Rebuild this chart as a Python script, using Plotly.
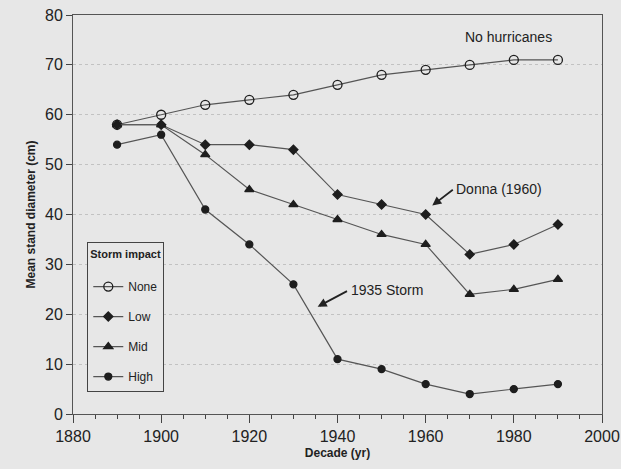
import plotly.graph_objects as go

decades = [1890, 1900, 1910, 1920, 1930, 1940, 1950, 1960, 1970, 1980, 1990]
none_vals = [58, 60, 62, 63, 64, 66, 68, 69, 70, 71, 71]
low_vals = [58, 58, 54, 54, 53, 44, 42, 40, 32, 34, 38]
mid_vals = [58, 58, 52, 45, 42, 39, 36, 34, 24, 25, 27]
high_vals = [54, 56, 41, 34, 26, 11, 9, 6, 4, 5, 6]

x_ticks = [1880, 1900, 1920, 1940, 1960, 1980, 2000]
y_ticks = [0, 10, 20, 30, 40, 50, 60, 70, 80]

BG = "#e7e7e7"
LINE = "#555555"
MK = "#1e1e1e"
FONT = "Liberation Sans, Arial, sans-serif"

fig = go.Figure()
series = [
    ("None", none_vals, "circle-open", 9),
    ("Low", low_vals, "diamond", 7),
    ("Mid", mid_vals, "triangle-up", 8),
    ("High", high_vals, "circle", 7),
]
for name, vals, sym, size in series:
    fig.add_trace(go.Scatter(
        x=decades, y=vals, name=name, mode="lines+markers",
        legendgroup=name,
        line=dict(color=LINE, width=1.2),
        marker=dict(symbol=sym, size=size, color=MK,
                    line=dict(color=MK, width=1.3)),
    ))

fig.add_annotation(x=1989, y=73.5, text="No hurricanes", showarrow=False,
                   xanchor="right", yanchor="bottom",
                   font=dict(size=14, color="#222", family=FONT))
fig.add_annotation(x=1961.5, y=41.8, ax=1966.5, ay=45.2, axref="x", ayref="y",
                   text="", showarrow=True, arrowhead=2, arrowsize=1,
                   arrowwidth=1.8, arrowcolor="#222")
fig.add_annotation(x=1966.5, y=45.2, text="Donna (1960)", showarrow=False,
                   xanchor="left", yanchor="middle",
                   font=dict(size=14, color="#222", family=FONT))
fig.add_annotation(x=1935.5, y=21.5, ax=1942.5, ay=24.8, axref="x", ayref="y",
                   text="", showarrow=True, arrowhead=2, arrowsize=1,
                   arrowwidth=1.8, arrowcolor="#222")
fig.add_annotation(x=1942.5, y=24.8, text="1935 Storm", showarrow=False,
                   xanchor="left", yanchor="middle",
                   font=dict(size=14, color="#222", family=FONT))

fig.update_layout(
    width=621, height=469,
    margin=dict(l=73, r=19, t=15, b=55),
    paper_bgcolor=BG, plot_bgcolor=BG,
    font=dict(family=FONT, color="#222"),
    showlegend=True,
    legend=dict(
        x=0.027, y=0.43, xanchor="left", yanchor="top",
        bgcolor=BG, bordercolor="#444", borderwidth=1,
        title=dict(text="<b>Storm impact</b><br> ", font=dict(size=11)),
        font=dict(size=12), itemwidth=30, tracegroupgap=11,
    ),
    xaxis=dict(
        range=[1880, 2000], tickvals=x_ticks, automargin=False,
        ticks="outside", ticklen=8, tickcolor="#444", tickwidth=1,
        minor=dict(dtick=5, tick0=1880, ticks="outside", ticklen=4, tickcolor="#444"),
        showline=True, linecolor="#555", linewidth=1, mirror=True,
        showgrid=False, zeroline=False,
        tickfont=dict(size=16, color="#222"),
        title=dict(text="<b>Decade (yr)</b>", font=dict(size=12), standoff=4),
    ),
    yaxis=dict(
        range=[0, 80], tickvals=y_ticks, automargin=False,
        ticks="outside", ticklen=6, tickcolor="#444",
        showline=True, linecolor="#555", linewidth=1, mirror=True,
        showgrid=True, gridcolor="#c2c2c2", griddash="dot", gridwidth=1,
        zeroline=False,
        tickfont=dict(size=16, color="#222"),
        title=dict(text="<b>Mean stand diameter (cm)</b>", font=dict(size=12), standoff=6),
    ),
)

fig.write_html(
    "out.html",
    config={"displayModeBar": False},
    post_script="document.body.style.margin='0';document.body.style.background='%s';" % BG,
)
